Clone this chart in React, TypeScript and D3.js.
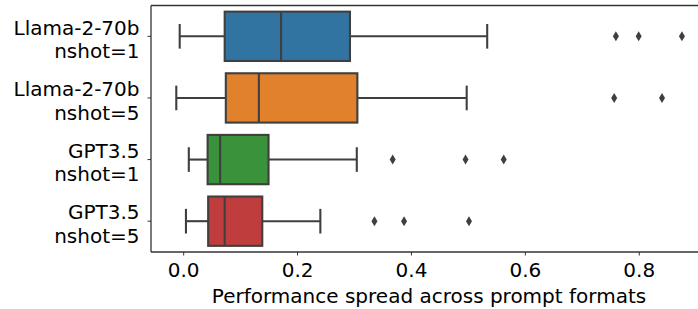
import React, { useEffect } from 'react';
import * as d3 from "d3";

const categories = ["Llama-2-70b\nnshot=1", "Llama-2-70b\nnshot=5", "GPT3.5\nnshot=1", "GPT3.5\nnshot=5"];
const whiskerLow = [-0.007, -0.013, 0.009, 0.004];
const q1 = [0.072, 0.074, 0.042, 0.043];
const medians = [0.171, 0.132, 0.064, 0.072];
const q3 = [0.292, 0.305, 0.149, 0.138];
const whiskerHigh = [0.533, 0.497, 0.304, 0.240];
const outliers = [
  [0.759, 0.799, 0.875],
  [0.756, 0.840],
  [0.367, 0.495, 0.562],
  [0.335, 0.387, 0.501],
];
const colors = ["#3274a1", "#e1812c", "#3a923a", "#c03d3e"];
const xTicks = [0.0, 0.2, 0.4, 0.6, 0.8];
const xLabel = "Performance spread across prompt formats";

export default function App() {
  useEffect(() => {
    document.body.style.margin = "0";
  }, []);

  const width = 698;
  const height = 309;
  const left = 151, right = 707, top = 5.5, bottom = 252;
  const font = "'DejaVu Sans', sans-serif";
  const lineColor = "#3f3f3f";
  const lw = 2.1;

  const x = d3.scaleLinear().domain([-0.0574, 0.919]).range([left, right]);
  const y = d3.scaleBand().domain(categories).range([top, bottom]);
  const bw = y.bandwidth() * 0.8;
  // thin diamond like matplotlib's 'd' marker
  const diamond = "M0,-5L3,0L0,5L-3,0Z";

  return (
    <svg width={width} height={height} style={{ display: "block" }}>
      <rect width={width} height={height} fill="white" />
      {categories.map((c, i) => {
        const cy = (y(c) ?? 0) + y.bandwidth() / 2;
        return (
          <g key={c}>
            <line x1={x(whiskerLow[i])} x2={x(q1[i])} y1={cy} y2={cy} stroke={lineColor} strokeWidth={lw} />
            <line x1={x(q3[i])} x2={x(whiskerHigh[i])} y1={cy} y2={cy} stroke={lineColor} strokeWidth={lw} />
            <line x1={x(whiskerLow[i])} x2={x(whiskerLow[i])} y1={cy - bw / 4} y2={cy + bw / 4} stroke={lineColor} strokeWidth={lw} />
            <line x1={x(whiskerHigh[i])} x2={x(whiskerHigh[i])} y1={cy - bw / 4} y2={cy + bw / 4} stroke={lineColor} strokeWidth={lw} />
            <rect x={x(q1[i])} y={cy - bw / 2} width={x(q3[i]) - x(q1[i])} height={bw}
              fill={colors[i]} stroke={lineColor} strokeWidth={lw} />
            <line x1={x(medians[i])} x2={x(medians[i])} y1={cy - bw / 2} y2={cy + bw / 2} stroke={lineColor} strokeWidth={lw} />
            {outliers[i].map((o, j) => (
              <path key={j} d={diamond} transform={`translate(${x(o)},${cy})`} fill={lineColor} />
            ))}
            <line x1={left - 3.5} x2={left} y1={cy} y2={cy} stroke="#333" strokeWidth={1} />
            <text textAnchor="end" fontFamily={font} fontSize={20} fill="#000">
              {c.split("\n").map((t, k) => (
                <tspan key={k} x={139.5} y={cy - 1.8 + k * 23.6}>{t}</tspan>
              ))}
            </text>
          </g>
        );
      })}
      {xTicks.map(t => (
        <g key={t}>
          <line x1={x(t)} x2={x(t)} y1={bottom} y2={bottom + 3.5} stroke="#333" strokeWidth={1} />
          <text x={x(t)} y={276.5} textAnchor="middle" fontFamily={font} fontSize={20} fill="#000">{t.toFixed(1)}</text>
        </g>
      ))}
      <line x1={left} x2={left} y1={top} y2={bottom} stroke="#333" strokeWidth={1.3} />
      <line x1={left} x2={right} y1={top} y2={top} stroke="#333" strokeWidth={1.3} />
      <line x1={left} x2={right} y1={bottom} y2={bottom} stroke="#333" strokeWidth={1.3} />
      <line x1={right} x2={right} y1={top} y2={bottom} stroke="#333" strokeWidth={1.3} />
      <text x={(left + right) / 2} y={302.7} textAnchor="middle" fontFamily={font} fontSize={20} fill="#000">{xLabel}</text>
    </svg>
  );
}
